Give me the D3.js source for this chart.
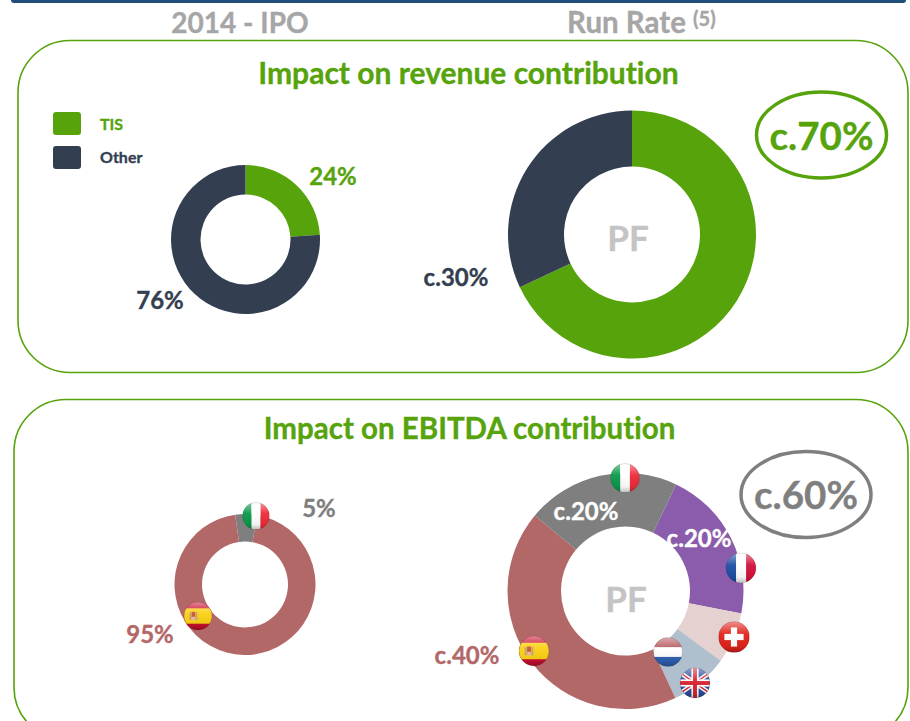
<!DOCTYPE html>
<html>
  <head>
    <title>Impact on contribution</title>
    <meta charset="utf-8">
    <script type="text/javascript" src="https://d3js.org/d3.v7.min.js"></script>
    <style>
      html, body { margin: 0; padding: 0; background: #fff; }
      svg { display: block; }
      text {
        font-family: Lato, "Open Sans", sans-serif;
        font-weight: 700;
        font-variant-ligatures: none;
        stroke-width: 0.35px;
      }
    </style>
  </head>
  <body>
    <svg></svg>
    <script type="text/javascript">
      "use strict";

      // values (slices are as drawn, labels as printed)
      var revenueCats = ['TIS', 'Other'];
      var revenueIpo = [24, 76];
      var revenuePf = [68, 32];
      var ebitdaIpoCats = ['Italy', 'Spain'];
      var ebitdaIpo = [5, 95];
      var ebitdaPfCats = ['France', 'Switzerland', 'UK+NL', 'Spain', 'Italy'];
      var ebitdaPf = [21, 7, 8, 43, 21];

      var colors = {
        TIS: '#56a30c', Other: '#333f50', Italy: '#7f7f7f', Spain: '#b36868',
        France: '#8b5cab', Switzerland: '#e6d1d1', 'UK+NL': '#b0bfcd'
      };

      var svg = d3.select('svg').attr('width', 910).attr('height', 721);
      var defs = svg.append('defs');

      // top rule, cut off by the page edge
      svg.append('rect').attr('x', 11).attr('y', -6).attr('width', 895).attr('height', 9)
         .attr('rx', 3).attr('fill', '#1f4e79');

      // panels
      svg.append('rect').attr('x', 18).attr('y', 40.5).attr('width', 890).attr('height', 332)
         .attr('rx', 52).attr('fill', 'none').attr('stroke', '#56a30c').attr('stroke-width', 1.6);
      svg.append('rect').attr('x', 14).attr('y', 399.5).attr('width', 894).attr('height', 340)
         .attr('rx', 52).attr('fill', 'none').attr('stroke', '#56a30c').attr('stroke-width', 1.6);

      function label(x, y, str, size, color, anchor) {
        return svg.append('text').attr('x', x).attr('y', y).attr('font-size', size)
                  .attr('fill', color).attr('stroke', color)
                  .attr('text-anchor', anchor || 'middle').text(str);
      }

      // column headers
      label(240, 33, '2014 - IPO', 28, '#a6a6a6');
      var rr = label(567, 33, 'Run Rate ', 29.5, '#a6a6a6', 'start');
      rr.append('tspan').attr('font-size', 20).attr('dy', -7).text('(5)');

      label(468.5, 84, 'Impact on revenue contribution', 30, '#56a30c');
      label(469.5, 438.5, 'Impact on EBITDA contribution', 29.5, '#56a30c');

      // legend
      revenueCats.forEach(function(d, i) {
        svg.append('rect').attr('x', 53).attr('y', 112 + i * 34).attr('width', 28).attr('height', 23)
           .attr('rx', 3).attr('fill', colors[d]);
        label(100, 130 + i * 33, d, 16, i === 0 ? colors.TIS : colors.Other, 'start');
      });

      function donut(cx, cy, rOuter, rInner, cats, values, startDeg) {
        var start = startDeg * Math.PI / 180;
        var pie = d3.pie().sort(null).startAngle(start).endAngle(start + 2 * Math.PI);
        var arc = d3.arc().innerRadius(rInner).outerRadius(rOuter);
        svg.append('g').attr('transform', 'translate(' + cx + ',' + cy + ')')
           .selectAll('path')
           .data(pie(values))
           .enter().append('path')
           .attr('d', arc)
           .attr('fill', function(d, i) { return colors[cats[i]]; });
      }

      donut(245.5, 239.5, 74.5, 45, revenueCats, revenueIpo, 0);
      donut(632, 234.5, 124, 68, revenueCats, revenuePf, 0);
      donut(245, 584.5, 70.5, 43, ebitdaIpoCats, ebitdaIpo, -8);
      donut(625.5, 591, 118, 64.5, ebitdaPfCats, ebitdaPf, 25.4);

      // value labels
      label(333, 185, '24%', 24, colors.TIS);
      label(160, 309, '76%', 24, colors.Other);
      label(456, 286, 'c.30%', 24, colors.Other);
      label(319, 517, '5%', 24, colors.Italy);
      label(150, 643, '95%', 24, colors.Spain);
      label(467, 664, 'c.40%', 24, colors.Spain);
      label(586, 520, 'c.20%', 24, '#fff');
      label(699, 547, 'c.20%', 24, '#fff');
      label(628, 251, 'PF', 35, '#c4c4c4');
      label(626, 612, 'PF', 35, '#c4c4c4');

      // call-out ellipses
      svg.append('ellipse').attr('cx', 821.5).attr('cy', 135).attr('rx', 65).attr('ry', 43)
         .attr('fill', '#fff').attr('stroke', colors.TIS).attr('stroke-width', 3.5);
      svg.append('ellipse').attr('cx', 806).attr('cy', 494.5).attr('rx', 65).attr('ry', 43)
         .attr('fill', '#fff').attr('stroke', colors.Italy).attr('stroke-width', 3.5);
      label(821.5, 150, 'c.70%', 38.5, colors.TIS);
      label(806, 509, 'c.60%', 38.5, colors.Italy);

      // flags: round badges with a glossy highlight
      var gloss = defs.append('linearGradient').attr('id', 'gloss')
                      .attr('x1', 0).attr('y1', 0).attr('x2', 0).attr('y2', 1);
      gloss.append('stop').attr('offset', 0).attr('stop-color', '#fff').attr('stop-opacity', 0.5);
      gloss.append('stop').attr('offset', 0.4).attr('stop-color', '#fff').attr('stop-opacity', 0.05);
      gloss.append('stop').attr('offset', 0.8).attr('stop-color', '#000').attr('stop-opacity', 0.05);
      gloss.append('stop').attr('offset', 1).attr('stop-color', '#000').attr('stop-opacity', 0.25);

      var flagId = 0;
      function flag(code, x, y, r) {
        flagId++;
        defs.append('clipPath').attr('id', 'f' + flagId).append('circle').attr('r', r);
        var g = svg.append('g').attr('transform', 'translate(' + x + ',' + y + ')');
        var f = g.append('g').attr('clip-path', 'url(#f' + flagId + ')');
        function band(bx, by, bw, bh, c) {
          f.append('rect').attr('x', bx * r).attr('y', by * r)
           .attr('width', bw * r).attr('height', bh * r).attr('fill', c);
        }
        function bar(x1, y1, x2, y2, w, c) {
          f.append('line').attr('x1', x1 * r).attr('y1', y1 * r).attr('x2', x2 * r).attr('y2', y2 * r)
           .attr('stroke', c).attr('stroke-width', w * r);
        }
        if (code === 'it') {
          band(-1, -1, 0.67, 2, '#0a9a4a'); band(-0.33, -1, 0.67, 2, '#fff'); band(0.34, -1, 0.66, 2, '#ee2b37');
        } else if (code === 'fr') {
          band(-1, -1, 0.67, 2, '#1d4fa3'); band(-0.33, -1, 0.67, 2, '#fff'); band(0.34, -1, 0.66, 2, '#d3123a');
        } else if (code === 'nl') {
          band(-1, -1, 2, 0.67, '#b5555c'); band(-1, -0.33, 2, 0.67, '#fff'); band(-1, 0.34, 2, 0.66, '#2f5fb0');
        } else if (code === 'es') {
          band(-1, -1, 2, 2, '#c8102e'); band(-1, -0.55, 2, 1.1, '#fbd116');
          band(-0.62, -0.28, 0.14, 0.56, '#c9a36a'); band(-0.18, -0.28, 0.14, 0.56, '#c9a36a');
          band(-0.46, -0.3, 0.26, 0.5, '#c8562a');
          band(-0.46, 0.05, 0.26, 0.25, '#e8b9a0');
        } else if (code === 'ch') {
          band(-1, -1, 2, 2, '#e2231a'); band(-0.2, -0.62, 0.4, 1.24, '#fff'); band(-0.62, -0.2, 1.24, 0.4, '#fff');
        } else if (code === 'uk') {
          band(-1, -1, 2, 2, '#2b4b9b');
          bar(-1, -0.7, 1, 0.7, 0.3, '#fff'); bar(-1, 0.7, 1, -0.7, 0.3, '#fff');
          bar(-1, -0.7, 1, 0.7, 0.1, '#d8232f'); bar(-1, 0.7, 1, -0.7, 0.1, '#d8232f');
          band(-0.24, -1, 0.48, 2, '#fff'); band(-1, -0.24, 2, 0.48, '#fff');
          band(-0.13, -1, 0.26, 2, '#d8232f'); band(-1, -0.13, 2, 0.26, '#d8232f');
        }
        g.append('circle').attr('r', r).attr('fill', 'url(#gloss)');
        g.append('circle').attr('r', r).attr('fill', 'none').attr('stroke', '#000').attr('stroke-opacity', 0.12);
      }

      flag('it', 256, 516, 13.5);
      flag('es', 198, 616, 14);
      flag('it', 625, 478, 14.5);
      flag('fr', 741, 568, 15);
      flag('ch', 734, 637, 15.5);
      flag('nl', 668, 652, 14.5);
      flag('uk', 695, 683, 15);
      flag('es', 534, 651, 15);
    </script>
  </body>
</html>
